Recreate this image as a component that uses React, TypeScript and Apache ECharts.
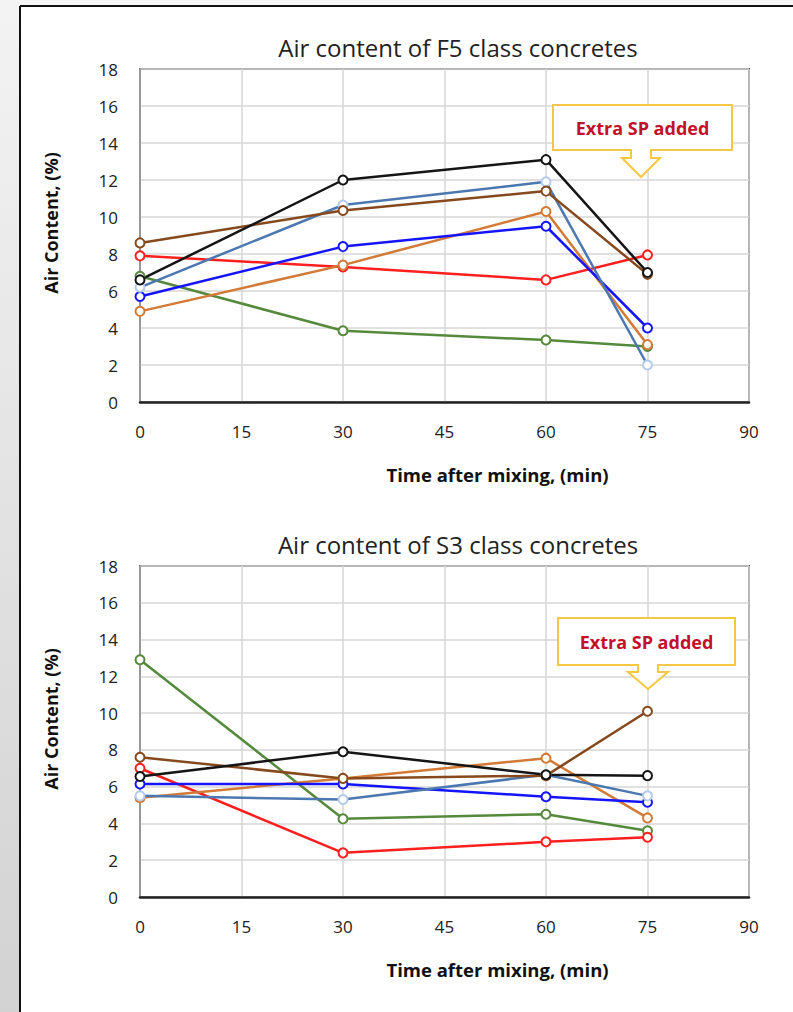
import { useEffect, useRef } from "react";
import * as echarts from "echarts";

const times = [0, 30, 60, 75];

const f5Black = [6.6, 12.0, 13.1, 7.0];
const f5Steel = [6.2, 10.65, 11.9, 2.0];
const f5Brown = [8.6, 10.35, 11.4, 6.9];
const f5Orange = [4.9, 7.4, 10.3, 3.1];
const f5Blue = [5.7, 8.4, 9.5, 4.0];
const f5Red = [7.9, 7.3, 6.6, 7.95];
const f5Green = [6.8, 3.85, 3.35, 3.0];

const s3Black = [6.55, 7.9, 6.65, 6.6];
const s3Steel = [5.5, 5.3, 6.65, 5.5];
const s3Brown = [7.6, 6.45, 6.6, 10.1];
const s3Orange = [5.4, 6.45, 7.55, 4.3];
const s3Blue = [6.15, 6.15, 5.45, 5.15];
const s3Red = [7.0, 2.4, 3.0, 3.25];
const s3Green = [12.9, 4.25, 4.5, 3.6];

const titles = ["Air content of F5 class concretes", "Air content of S3 class concretes"];
const xName = "Time after mixing, (min)";
const yName = "Air Content, (%)";
const calloutText = "Extra SP added";

const FONT = "'Open Sans', Lato, sans-serif";

const styles = [
  { name: "Green", line: "#55893c", marker: "#55893c" },
  { name: "Red", line: "#ff1f1f", marker: "#ff1f1f" },
  { name: "Orange", line: "#d27a36", marker: "#d27a36" },
  { name: "Blue", line: "#1414ff", marker: "#1414ff" },
  { name: "Steel blue", line: "#4b78b0", marker: "#b3cbee" },
  { name: "Brown", line: "#86491d", marker: "#86491d" },
  { name: "Black", line: "#151515", marker: "#151515" },
];

const f5Sets = [f5Green, f5Red, f5Orange, f5Blue, f5Steel, f5Brown, f5Black];
const s3Sets = [s3Green, s3Red, s3Orange, s3Blue, s3Steel, s3Brown, s3Black];

function makeSeries(sets: number[][], gridIdx: number) {
  return sets.map((vals, i) => ({
    type: "line",
    name: styles[i].name,
    xAxisIndex: gridIdx,
    yAxisIndex: gridIdx,
    data: vals.map((v, k) => [times[k], v]),
    symbol: "emptyCircle",
    symbolSize: 9,
    lineStyle: { color: styles[i].line, width: 2.5 },
    itemStyle: { color: styles[i].marker, borderWidth: 2 },
    emphasis: { disabled: true },
  }));
}

function callout(x0: number, x1: number, y0: number, y1: number, nl: number, nr: number, wy: number, wl: number, wr: number, tx: number, ty: number) {
  return [
    {
      type: "polygon",
      shape: {
        points: [
          [x0, y0], [x1, y0], [x1, y1], [nr, y1], [nr, wy], [wr, wy], [tx, ty], [wl, wy], [nl, wy], [nl, y1], [x0, y1],
        ],
      },
      style: { fill: "#ffffff", stroke: "#f6c744", lineWidth: 2 },
      z: 100,
    },
    {
      type: "text",
      x: (x0 + x1) / 2,
      y: (y0 + y1) / 2,
      style: {
        text: calloutText,
        fill: "#c4102a",
        font: `bold 18px ${FONT}`,
        textAlign: "center",
        textVerticalAlign: "middle",
      },
      z: 101,
    },
  ];
}

function xAxisCfg(gridIndex: number) {
  return {
    type: "value",
    gridIndex,
    min: 0,
    max: 90,
    interval: 15,
    name: xName,
    nameLocation: "middle",
    nameGap: 63,
    nameTextStyle: { fontFamily: FONT, fontWeight: "bold", fontSize: 18.5, color: "#111", padding: [0, 0, 0, 106] },
    axisLine: { show: true, lineStyle: { color: "#222", width: 2.5 } },
    axisTick: { show: false },
    axisLabel: { fontFamily: FONT, fontSize: 17, color: "#222", margin: 21 },
    splitLine: { show: true, lineStyle: { color: "#d6d6d6", width: 1.5 } },
  };
}

function yAxisCfg(gridIndex: number) {
  return {
    type: "value",
    gridIndex,
    min: 0,
    max: 18,
    interval: 2,
    name: yName,
    nameLocation: "middle",
    nameGap: 80,
    nameTextStyle: { fontFamily: FONT, fontWeight: "bold", fontSize: 18, color: "#111", padding: [0, 0, 0, 25] },
    axisLine: { show: true, lineStyle: { color: "#8c8c8c", width: 1.5 } },
    axisTick: { show: false },
    axisLabel: { fontFamily: FONT, fontSize: 17, color: "#222", margin: 22 },
    splitLine: { show: true, lineStyle: { color: "#d6d6d6", width: 1.5 } },
  };
}

export default function App() {
  const ref = useRef<HTMLDivElement>(null);
  useEffect(() => {
    if (!ref.current) return;
    const chart = echarts.init(ref.current, null, { renderer: "svg" });
    chart.setOption({
      animation: false,
      backgroundColor: "#ffffff",
      title: [
        {
          text: titles[0],
          left: 453,
          top: 30,
          textAlign: "center",
          textStyle: { fontFamily: FONT, fontWeight: "normal", fontSize: 24, color: "#222" },
        },
        {
          text: titles[1],
          left: 453,
          top: 527,
          textAlign: "center",
          textStyle: { fontFamily: FONT, fontWeight: "normal", fontSize: 24, color: "#222" },
        },
      ],
      grid: [
        { left: 140, top: 69, width: 609, height: 333, show: true, borderColor: "#575757", borderWidth: 2, backgroundColor: "transparent" },
        { left: 140, top: 566, width: 609, height: 331, show: true, borderColor: "#575757", borderWidth: 2, backgroundColor: "transparent" },
      ],
      xAxis: [xAxisCfg(0), xAxisCfg(1)],
      yAxis: [yAxisCfg(0), yAxisCfg(1)],
      series: [...makeSeries(f5Sets, 0), ...makeSeries(s3Sets, 1)],
      graphic: [
        {
          type: "rect",
          shape: { x: 0, y: 0, width: 20, height: 1012 },
          style: {
            fill: new echarts.graphic.LinearGradient(0, 0, 0, 1, [
              { offset: 0, color: "#f3f3f3" },
              { offset: 1, color: "#d2d2d2" },
            ]),
          },
          z: 0,
        },
        { type: "rect", shape: { x: 20, y: 0, width: 773, height: 5 }, style: { fill: "#f7f7f7" }, z: 0 },
        { type: "line", shape: { x1: 20, y1: 6, x2: 793, y2: 6 }, style: { stroke: "#111", lineWidth: 2 }, z: 1 },
        { type: "line", shape: { x1: 20, y1: 6, x2: 20, y2: 1012 }, style: { stroke: "#111", lineWidth: 2 }, z: 1 },
        ...callout(553, 732, 105, 150, 631, 651, 158, 622, 660, 641, 177),
        ...callout(558, 735, 618, 665, 638, 658, 672, 628, 668, 648, 689),
      ],
    });
    return () => chart.dispose();
  }, []);
  return <div ref={ref} style={{ position: "absolute", left: 0, top: 0, width: 793, height: 1012 }} />;
}
